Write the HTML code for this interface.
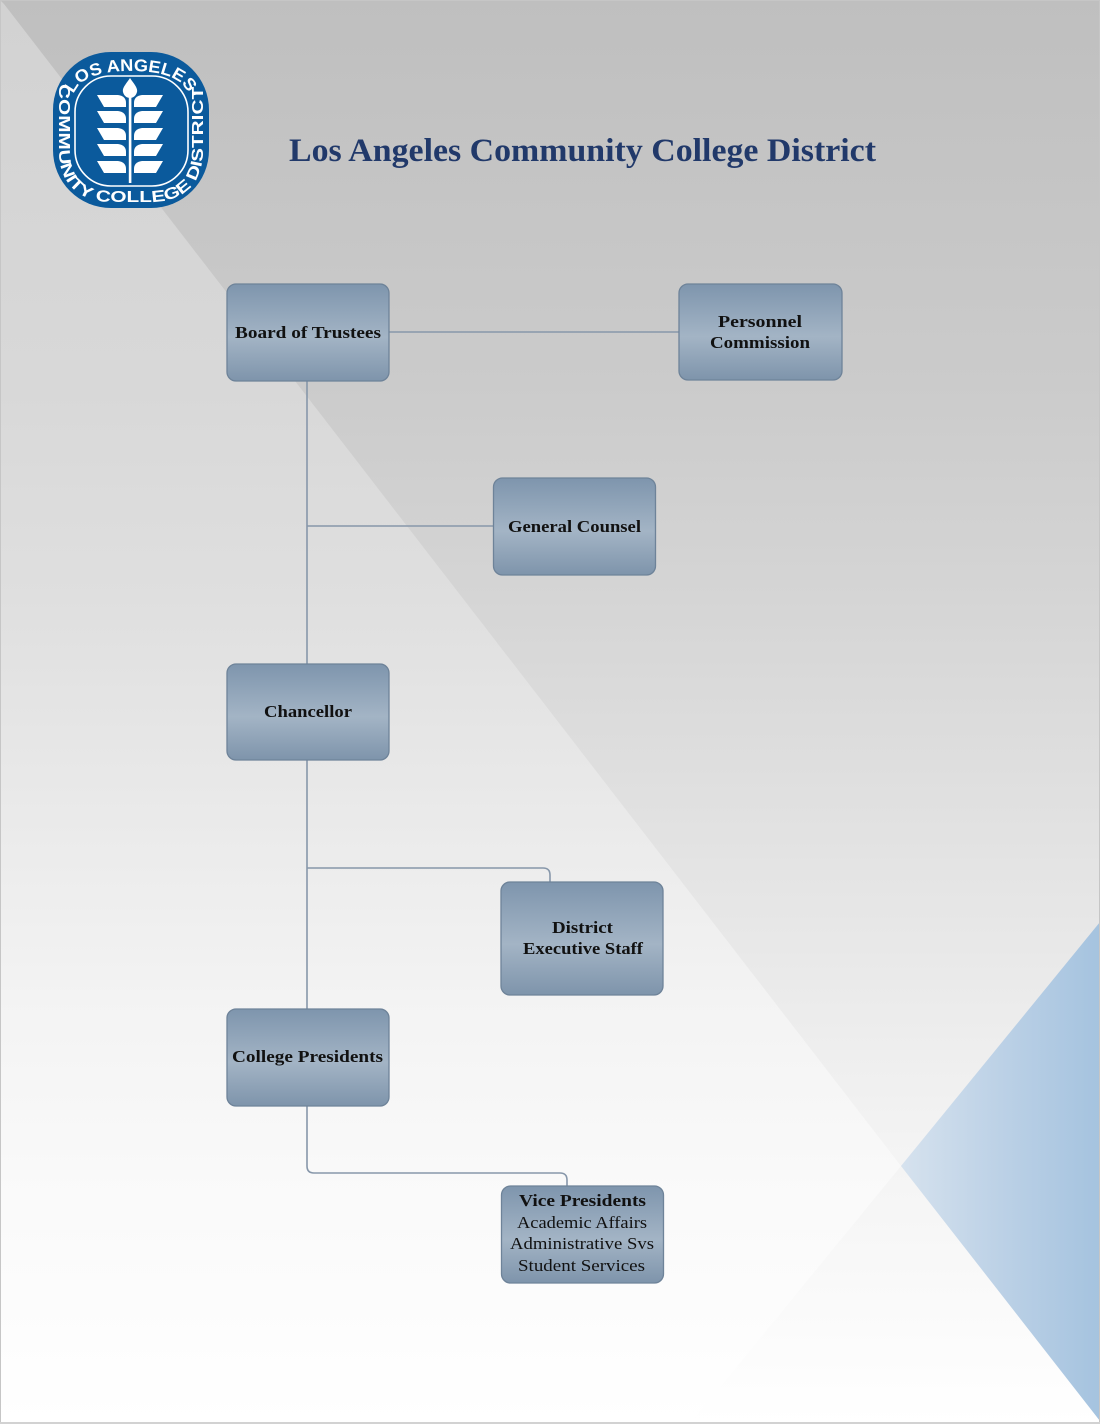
<!DOCTYPE html>
<html>
<head>
<meta charset="utf-8">
<style>
  html,body{margin:0;padding:0;background:#fff;}
  body{width:1100px;height:1424px;overflow:hidden;}
  svg{display:block;}
  .t{font-family:"Liberation Serif","DejaVu Serif",serif;font-weight:bold;font-size:17px;fill:#111;}
  .r{font-family:"Liberation Serif","DejaVu Serif",serif;font-weight:normal;font-size:17px;fill:#111;}
  .lg{font-family:"Liberation Sans","DejaVu Sans",sans-serif;font-weight:bold;fill:#fff;}
</style>
</head>
<body>
<svg width="1100" height="1424" viewBox="0 0 1100 1424" xmlns="http://www.w3.org/2000/svg">
  <defs>
    <linearGradient id="bgR" x1="0" y1="0" x2="0" y2="1424" gradientUnits="userSpaceOnUse">
      <stop offset="0" stop-color="#bfbfbf"/>
      <stop offset="0.27" stop-color="#cbcbcb"/>
      <stop offset="0.42" stop-color="#d5d5d5"/>
      <stop offset="0.7" stop-color="#ebebeb"/>
      <stop offset="0.8" stop-color="#f3f3f3"/>
      <stop offset="1" stop-color="#ffffff"/>
    </linearGradient>
    <linearGradient id="bgL" x1="0" y1="0" x2="0" y2="1424" gradientUnits="userSpaceOnUse">
      <stop offset="0" stop-color="#d2d2d2"/>
      <stop offset="0.27" stop-color="#d8d8d8"/>
      <stop offset="0.42" stop-color="#dfdfdf"/>
      <stop offset="0.7" stop-color="#f3f3f3"/>
      <stop offset="0.82" stop-color="#f9f9f9"/>
      <stop offset="1" stop-color="#ffffff"/>
    </linearGradient>
    <linearGradient id="blue" x1="901" y1="0" x2="1100" y2="0" gradientUnits="userSpaceOnUse">
      <stop offset="0" stop-color="#d6e2ee"/>
      <stop offset="0.5" stop-color="#bcd1e6"/>
      <stop offset="1" stop-color="#a5c3df"/>
    </linearGradient>
    <linearGradient id="box" x1="0" y1="0" x2="0" y2="1">
      <stop offset="0" stop-color="#7e95ad"/>
      <stop offset="0.55" stop-color="#a3b4c5"/>
      <stop offset="1" stop-color="#7e94ab"/>
    </linearGradient>
  </defs>

  <!-- background -->
  <rect x="0" y="0" width="1100" height="1424" fill="url(#bgR)"/>
  <polygon points="0,0 4,4 901,1166 690,1424 0,1424" fill="url(#bgL)"/>
  <polygon points="1100,922 901,1166 1100,1421" fill="url(#blue)"/>
  <rect x="0.5" y="0.5" width="1099" height="1422" fill="none" stroke="#c6c6c6" stroke-width="1"/>
  <line x1="0" y1="1423" x2="1100" y2="1423" stroke="#d2d2d2" stroke-width="2"/>

  <!-- logo -->
  <g>
    <rect x="53" y="52" width="156" height="156" rx="58" ry="58" fill="#0b5a9c"/>
    <rect x="75" y="76" width="113" height="110" rx="36" ry="36" fill="none" stroke="#ffffff" stroke-width="1.6"/>
    <path id="topArc" d="M72,104 C72,80 96,71 131,71 C166,71 190,80 190,104" fill="none"/>
    <path id="botArc" d="M59,82 L59,150 C59,185 80,202 112,202 L150,202 C182,202 203,185 203,150 L203,82" fill="none"/>
    <text class="lg" font-size="17"><textPath href="#topArc" startOffset="4" textLength="142" lengthAdjust="spacingAndGlyphs">·LOS ANGELES·</textPath></text>
    <text class="lg" font-size="16"><textPath href="#botArc" startOffset="2" textLength="336" lengthAdjust="spacingAndGlyphs">COMMUNITY COLLEGE DISTRICT</textPath></text>
    <!-- wheat -->
    <path d="M130,78 C134,84 138,88 137,92 C136,96 133,98 130,98 C127,98 124,96 123,92 C122,88 126,84 130,78 Z" fill="#fff"/>
    <rect x="128.8" y="95" width="2.6" height="88" fill="#fff"/>
    <g fill="#fff">
      <path d="M97,95 L118,95 Q126,96 126,103 L126,107 L104,107 Z"/>
      <path d="M163,95 L142,95 Q134,96 134,103 L134,107 L156,107 Z"/>
      <path d="M97,111 L118,111 Q126,112 126,119 L126,123 L104,123 Z"/>
      <path d="M163,111 L142,111 Q134,112 134,119 L134,123 L156,123 Z"/>
      <path d="M97,128 L118,128 Q126,129 126,136 L126,140 L104,140 Z"/>
      <path d="M163,128 L142,128 Q134,129 134,136 L134,140 L156,140 Z"/>
      <path d="M97,144 L118,144 Q126,145 126,152 L126,156 L104,156 Z"/>
      <path d="M163,144 L142,144 Q134,145 134,152 L134,156 L156,156 Z"/>
      <path d="M97,161 L118,161 Q126,162 126,169 L126,173 L104,173 Z"/>
      <path d="M163,161 L142,161 Q134,162 134,169 L134,173 L156,173 Z"/>
    </g>
  </g>

  <!-- title -->
  <text x="289" y="161" textLength="587" lengthAdjust="spacingAndGlyphs" font-family="Liberation Serif, DejaVu Serif, serif" font-weight="bold" font-size="33" fill="#21396a">Los Angeles Community College District</text>

  <!-- connectors -->
  <g fill="none" stroke="#8797aa" stroke-width="1.6">
    <line x1="389" y1="332" x2="679" y2="332"/>
    <line x1="307" y1="381" x2="307" y2="664"/>
    <line x1="307" y1="526" x2="494" y2="526"/>
    <line x1="307" y1="760" x2="307" y2="1009"/>
    <path d="M307,868 H543 Q550,868 550,875 V882"/>
    <path d="M307,1106 V1166 Q307,1173 314,1173 H560 Q567,1173 567,1180 V1186"/>
  </g>

  <!-- boxes -->
  <g stroke="#6e8399" stroke-width="1.3" fill="url(#box)">
    <rect x="227" y="284" width="162" height="97" rx="9"/>
    <rect x="679" y="284" width="163" height="96" rx="9"/>
    <rect x="493.5" y="478" width="162" height="97" rx="9"/>
    <rect x="227" y="664" width="162" height="96" rx="9"/>
    <rect x="501" y="882" width="162" height="113" rx="9"/>
    <rect x="227" y="1009" width="162" height="97" rx="9"/>
    <rect x="501.5" y="1186" width="162" height="97" rx="9"/>
  </g>

  <!-- box labels -->
  <text class="t" x="235" y="338" textLength="146" lengthAdjust="spacingAndGlyphs">Board of Trustees</text>
  <text class="t" x="718" y="327" textLength="84" lengthAdjust="spacingAndGlyphs">Personnel</text>
  <text class="t" x="710" y="348" textLength="100" lengthAdjust="spacingAndGlyphs">Commission</text>
  <text class="t" x="508" y="532" textLength="133" lengthAdjust="spacingAndGlyphs">General Counsel</text>
  <text class="t" x="264" y="717" textLength="88" lengthAdjust="spacingAndGlyphs">Chancellor</text>
  <text class="t" x="552" y="933" textLength="61" lengthAdjust="spacingAndGlyphs">District</text>
  <text class="t" x="523" y="954" textLength="120" lengthAdjust="spacingAndGlyphs">Executive Staff</text>
  <text class="t" x="232" y="1062" textLength="151" lengthAdjust="spacingAndGlyphs">College Presidents</text>
  <text class="t" x="519" y="1206" textLength="127" lengthAdjust="spacingAndGlyphs">Vice Presidents</text>
  <text class="r" x="517" y="1228" textLength="130" lengthAdjust="spacingAndGlyphs">Academic Affairs</text>
  <text class="r" x="510" y="1249" textLength="144" lengthAdjust="spacingAndGlyphs">Administrative Svs</text>
  <text class="r" x="518" y="1271" textLength="127" lengthAdjust="spacingAndGlyphs">Student Services</text>
</svg>
</body>
</html>
